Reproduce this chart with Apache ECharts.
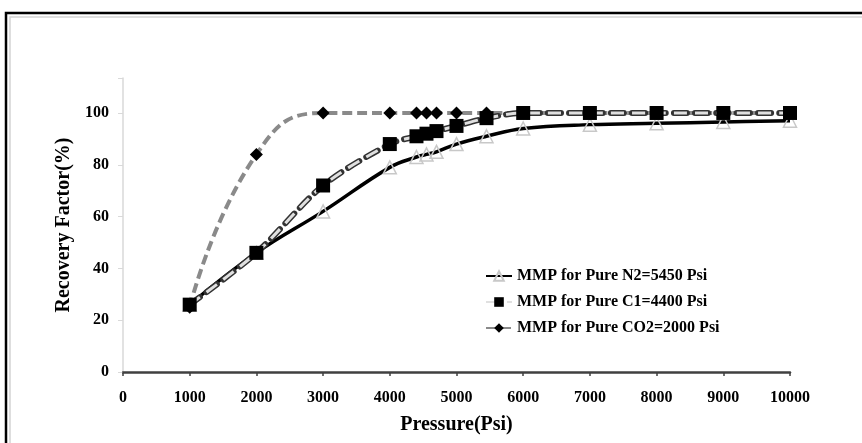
<!DOCTYPE html>
<html>
<head>
<meta charset="utf-8">
<script src="https://cdn.jsdelivr.net/npm/echarts@6/dist/echarts.min.js"></script>
<style>
  html, body { margin: 0; padding: 0; background: #fff; }
  #chart { width: 862px; height: 443px; }
</style>
</head>
<body>
<div id="chart"></div>
<script>
// data
var pressure = [1000, 2000, 3000, 4000, 4400, 4550, 4700, 5000, 5450, 6000, 7000, 8000, 9000, 10000];
var n2Values = [26, 46, 62, 79, 83, 84, 85, 88, 91, 94, 95.5, 96, 96.5, 97];
var c1Values = [26, 46, 72, 88, 91, 92, 93, 95, 98, 100, 100, 100, 100, 100];
var co2Values = [25, 84, 100, 100, 100, 100, 100, 100, 100, 100, 100, 100, 100, 100];
var seriesNames = ['MMP for Pure N2=5450 Psi', 'MMP for Pure C1=4400 Psi', 'MMP for Pure CO2=2000 Psi'];

function pairs(vals) {
  return pressure.map(function (p, i) { return [p, vals[i]]; });
}

var serif = '"Liberation Serif", "DejaVu Serif", serif';
var chart = echarts.init(document.getElementById('chart'));

var option = {
  backgroundColor: '#fff',
  animation: false,
  grid: { left: 123, right: 72, top: 78, bottom: 71 },
  legend: {
    data: seriesNames,
    orient: 'vertical',
    left: 480,
    top: 263,
    itemWidth: 26,
    itemHeight: 12,
    itemGap: 10,
    textStyle: { color: '#000', fontFamily: serif, fontWeight: 'bold', fontSize: 16 }
  },
  graphic: [
    { type: 'rect', shape: { x: 6, y: 13, width: 900, height: 500 }, style: { fill: 'none', stroke: '#000', lineWidth: 2.5 } },
    { type: 'rect', shape: { x: 10, y: 17, width: 900, height: 500 }, style: { fill: 'none', stroke: '#d4d4d4', lineWidth: 1.5 } }
  ],
  xAxis: {
    type: 'value',
    min: 0,
    max: 10000,
    interval: 1000,
    name: 'Pressure(Psi)',
    nameLocation: 'middle',
    nameGap: 43,
    nameTextStyle: { color: '#000', fontFamily: serif, fontWeight: 'bold', fontSize: 20 },
    axisLine: { lineStyle: { color: '#404040', width: 2.5 } },
    axisTick: { length: 4, lineStyle: { color: '#404040', width: 1.5 } },
    axisLabel: {
      margin: 18, color: '#000', fontFamily: serif, fontWeight: 'bold', fontSize: 16,
      formatter: function (v) { return String(v); }
    },
    splitLine: { show: false }
  },
  yAxis: {
    type: 'value',
    min: 0,
    max: 113.5,
    interval: 20,
    name: 'Recovery Factor(%)',
    nameLocation: 'middle',
    nameGap: 46,
    nameTextStyle: { color: '#000', fontFamily: serif, fontWeight: 'bold', fontSize: 20 },
    axisLine: { show: true, lineStyle: { color: '#d9d9d9', width: 1.5 } },
    axisTick: { show: true, length: 5, lineStyle: { color: '#d9d9d9' } },
    axisLabel: {
      margin: 14, color: '#000', fontFamily: serif, fontWeight: 'bold', fontSize: 16,
      formatter: function (v) { return v % 20 === 0 ? v : ''; }
    },
    splitLine: { show: false }
  },
  series: [
    {
      name: seriesNames[0],
      type: 'line',
      smooth: 0.4,
      data: pairs(n2Values),
      symbol: 'triangle',
      symbolSize: 13,
      lineStyle: { color: '#000', width: 3.5 },
      itemStyle: { color: 'rgba(255,255,255,0)', borderColor: '#c8c8c8', borderWidth: 1.5 },
      z: 2
    },
    {
      name: seriesNames[2],
      type: 'line',
      smooth: 0.5,
      data: pairs(co2Values),
      symbol: 'diamond',
      symbolSize: 13,
      lineStyle: { color: '#8a8a8a', width: 4, type: [10, 5] },
      itemStyle: { color: '#000' },
      z: 3
    },
    {
      name: 'c1-outline',
      type: 'line',
      smooth: 0.3,
      data: pairs(c1Values),
      symbol: 'none',
      lineStyle: { color: '#333', width: 6, type: [13, 8], cap: 'round' },
      z: 4
    },
    {
      name: seriesNames[1],
      type: 'line',
      smooth: 0.3,
      data: pairs(c1Values),
      symbol: 'rect',
      symbolSize: 14,
      lineStyle: { color: '#e0e0e0', width: 3, type: [13, 8] },
      itemStyle: { color: '#000' },
      z: 5
    }
  ]
};

chart.setOption(option);
</script>
</body>
</html>
